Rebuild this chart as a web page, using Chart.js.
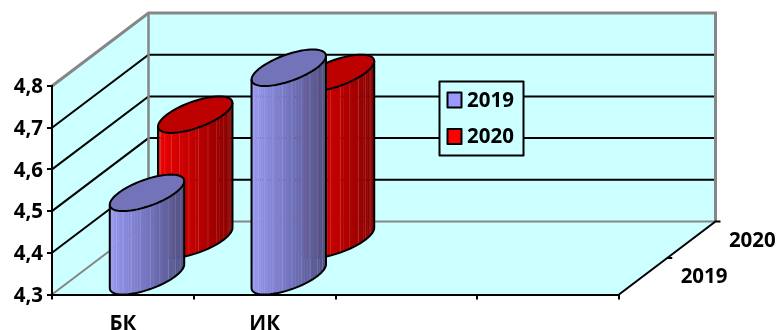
<!DOCTYPE html>
<html><head><meta charset="utf-8">
<style>html,body{margin:0;padding:0;background:#fff}canvas{display:block}</style>
<script src="https://cdn.jsdelivr.net/npm/chart.js@4"></script>
</head><body><canvas id="c" width="778" height="330"></canvas>
<script>
const categories = ['БК', 'ИК', '', ''];
const values2019 = [4.5, 4.8, null, null];
const values2020 = [4.6, 4.7, null, null];
const seriesNames = ['2019', '2020'];
const yMin = 4.3, yMax = 4.8, yStep = 0.1;

const DX = 96.5, DY = 73;           // oblique depth vector of the 3D box
const FONT = 'bold 20.5px "Open Sans"';
const WALL = '#CCFFFF', EDGE = '#868686';
const palettes = [
  {top:'#7373B9', stops:[[0,[152,152,240]],[.5,[116,116,192]],[1,[80,80,130]]], swatch:'#9999FF'},
  {top:'#BD0000', stops:[[0,[238,0,0]],[.5,[190,0,0]],[1,[135,0,0]]], swatch:'#FF0000'}
];
function mix(stops,t){
  for(let i=1;i<stops.length;i++){ if(t<=stops[i][0]){
    const a=stops[i-1],b=stops[i],k=(t-a[0])/(b[0]-a[0]);
    return a[1].map((v,j)=>Math.round(v+(b[1][j]-v)*k)); } }
  return stops[stops.length-1][1];
}
function line(ctx,pts,color,w){
  ctx.beginPath(); pts.forEach((p,i)=>i?ctx.lineTo(p[0],p[1]):ctx.moveTo(p[0],p[1]));
  ctx.strokeStyle=color; ctx.lineWidth=w; ctx.stroke();
}
function poly(ctx,pts,color){
  ctx.beginPath(); pts.forEach((p,i)=>i?ctx.lineTo(p[0],p[1]):ctx.moveTo(p[0],p[1]));
  ctx.closePath(); ctx.fillStyle=color; ctx.fill();
}
function cylinder(ctx,chart,catIdx,serIdx,value){
  const xs=chart.scales.x, ys=chart.scales.y, pal=palettes[serIdx];
  const catW=xs.getPixelForValue(1)-xs.getPixelForValue(0);
  const depthT=(serIdx+.5)/seriesNames.length;
  const cx=xs.getPixelForValue(catIdx)+DX*depthT;
  const off=DY*depthT;
  const baseY=ys.getPixelForValue(yMin)-off, topY=ys.getPixelForValue(value)-off;
  const ux=catW*0.2, vx=DX/seriesNames.length/2, vy=DY/seriesNames.length/2;
  const P=(th,y)=>[cx+ux*Math.cos(th)+vx*Math.sin(th), y-vy*Math.sin(th)];
  const th0=Math.atan2(vx,ux);
  const halfW=Math.hypot(ux,vx), N=36;
  for(let i=0;i<N;i++){
    const a=th0+Math.PI+Math.PI*i/N, b=th0+Math.PI+Math.PI*(i+1)/N;
    const pa=P(a,topY), pb=P(b,topY), qa=P(a,baseY), qb=P(b,baseY);
    const t=((pa[0]+pb[0])/2-(cx-halfW))/(2*halfW);
    const c=mix(pal.stops,t);
    poly(ctx,[pa,pb,[pb[0]+.4,pb[1]],[qb[0]+.4,qb[1]],qb,qa],`rgb(${c})`);
    if(i%3===1) line(ctx,[pa,qa],'rgba(255,255,255,0.13)',1);
  }
  // top face
  ctx.beginPath();
  for(let i=0;i<=72;i++){const p=P(Math.PI*2*i/72,topY); i?ctx.lineTo(p[0],p[1]):ctx.moveTo(p[0],p[1]);}
  ctx.closePath(); ctx.fillStyle=pal.top; ctx.fill();
  ctx.strokeStyle='#000'; ctx.lineWidth=2; ctx.lineJoin='round'; ctx.stroke();
  // silhouette
  const path=[]; for(let i=0;i<=N;i++) path.push(P(th0+Math.PI+Math.PI*i/N,baseY));
  const L=P(th0+Math.PI,topY), R=P(th0,topY);
  line(ctx,[L,...path,R],'#000',2);
}
const box3d = {
  id:'box3d',
  beforeDraw(chart){
    const ctx=chart.ctx, a=chart.chartArea, ys=chart.scales.y;
    const l=a.left,r=a.right,t=a.top,b=a.bottom;
    ctx.save();
    ctx.fillStyle='#fff'; ctx.fillRect(0,0,chart.width,chart.height);
    poly(ctx,[[l+DX,t-DY],[r+DX,t-DY],[r+DX,b-DY],[l+DX,b-DY]],WALL);
    poly(ctx,[[l,t],[l+DX,t-DY],[l+DX,b-DY],[l,b]],WALL);
    poly(ctx,[[l,b],[l+DX,b-DY],[r+DX,b-DY],[r,b]],WALL);
    ys.ticks.forEach(tk=>{
      if(tk.value<=yMin+1e-6||tk.value>=yMax-1e-6) return;
      const y=ys.getPixelForValue(tk.value);
      line(ctx,[[l,y],[l+DX,y-DY],[r+DX,y-DY]],'#000',2);
    });
    line(ctx,[[l,b],[l+DX,b-DY],[r+DX,b-DY]],EDGE,2);
    line(ctx,[[l,t],[l+DX,t-DY],[r+DX,t-DY],[r+DX,b-DY]],EDGE,3);
    line(ctx,[[l+DX,t-DY],[l+DX,b-DY]],EDGE,2.5);
    // depth axis with its ticks
    line(ctx,[[r,b],[r+DX,b-DY],[r+DX+5,b-DY]],'#000',2);
    line(ctx,[[r+DX/2,b-DY/2],[r+DX/2+5,b-DY/2]],'#000',2);
    ctx.restore();
  },
  afterDatasetsDraw(chart){
    const ctx=chart.ctx, a=chart.chartArea;
    ctx.save();
    chart.data.datasets.slice().reverse().forEach((ds,ri)=>{
      const si=chart.data.datasets.length-1-ri;
      ds.data.forEach((v,ci)=>{ if(v!=null) cylinder(ctx,chart,ci,si,v); });
    });
    // depth-axis labels
    ctx.font=FONT; ctx.fillStyle='#000'; ctx.textBaseline='middle'; ctx.textAlign='left';
    seriesNames.forEach((n,i)=>{
      const t=(i+.5)/seriesNames.length;
      ctx.fillText(n,a.right+DX*t+37.5,a.bottom-DY*t+1);
    });
    // legend
    const lx=439.5,ly=81.5,lw=84,lh=74;
    ctx.fillStyle=WALL; ctx.fillRect(lx,ly,lw,lh);
    ctx.strokeStyle='#000'; ctx.lineWidth=2; ctx.strokeRect(lx,ly,lw,lh);
    seriesNames.forEach((n,i)=>{
      const y=100+i*36.5;
      ctx.fillStyle=palettes[i].swatch; ctx.fillRect(447.5,y-7.5,14,15);
      ctx.strokeRect(447.5,y-7.5,14,15);
      ctx.fillStyle='#000'; ctx.fillText(n,467,y+1);
    });
    ctx.restore();
  }
};
const tickFont={family:'"Open Sans"',size:20.5,weight:'bold'};
new Chart(document.getElementById('c'),{
  type:'bar',
  data:{labels:categories,datasets:[
    {label:seriesNames[0],data:values2019,backgroundColor:'transparent'},
    {label:seriesNames[1],data:values2020,backgroundColor:'transparent'}
  ]},
  plugins:[box3d],
  options:{
    responsive:false,animation:false,
    layout:{padding:{top:86,right:159,left:0,bottom:0}},
    plugins:{legend:{display:false},tooltip:{enabled:false},title:{display:false}},
    scales:{
      x:{
        afterFit(s){s.height=35.5;},
        grid:{offset:true,drawOnChartArea:false,drawTicks:true,tickLength:5,color:'#000',lineWidth:2},
        border:{color:'#000',width:2},
        ticks:{autoSkip:false,maxRotation:0,padding:12,color:'#000',font:tickFont}
      },
      y:{
        min:yMin,max:yMax,
        afterFit(s){s.width=52;},
        grid:{drawOnChartArea:false,drawTicks:true,tickLength:5,color:'#000',lineWidth:2},
        border:{color:'#000',width:2},
        ticks:{stepSize:yStep,padding:4,labelOffset:1.5,color:'#000',font:tickFont,
          callback:v=>v.toFixed(1).replace('.',',')}
      }
    }
  }
});
</script></body></html>
